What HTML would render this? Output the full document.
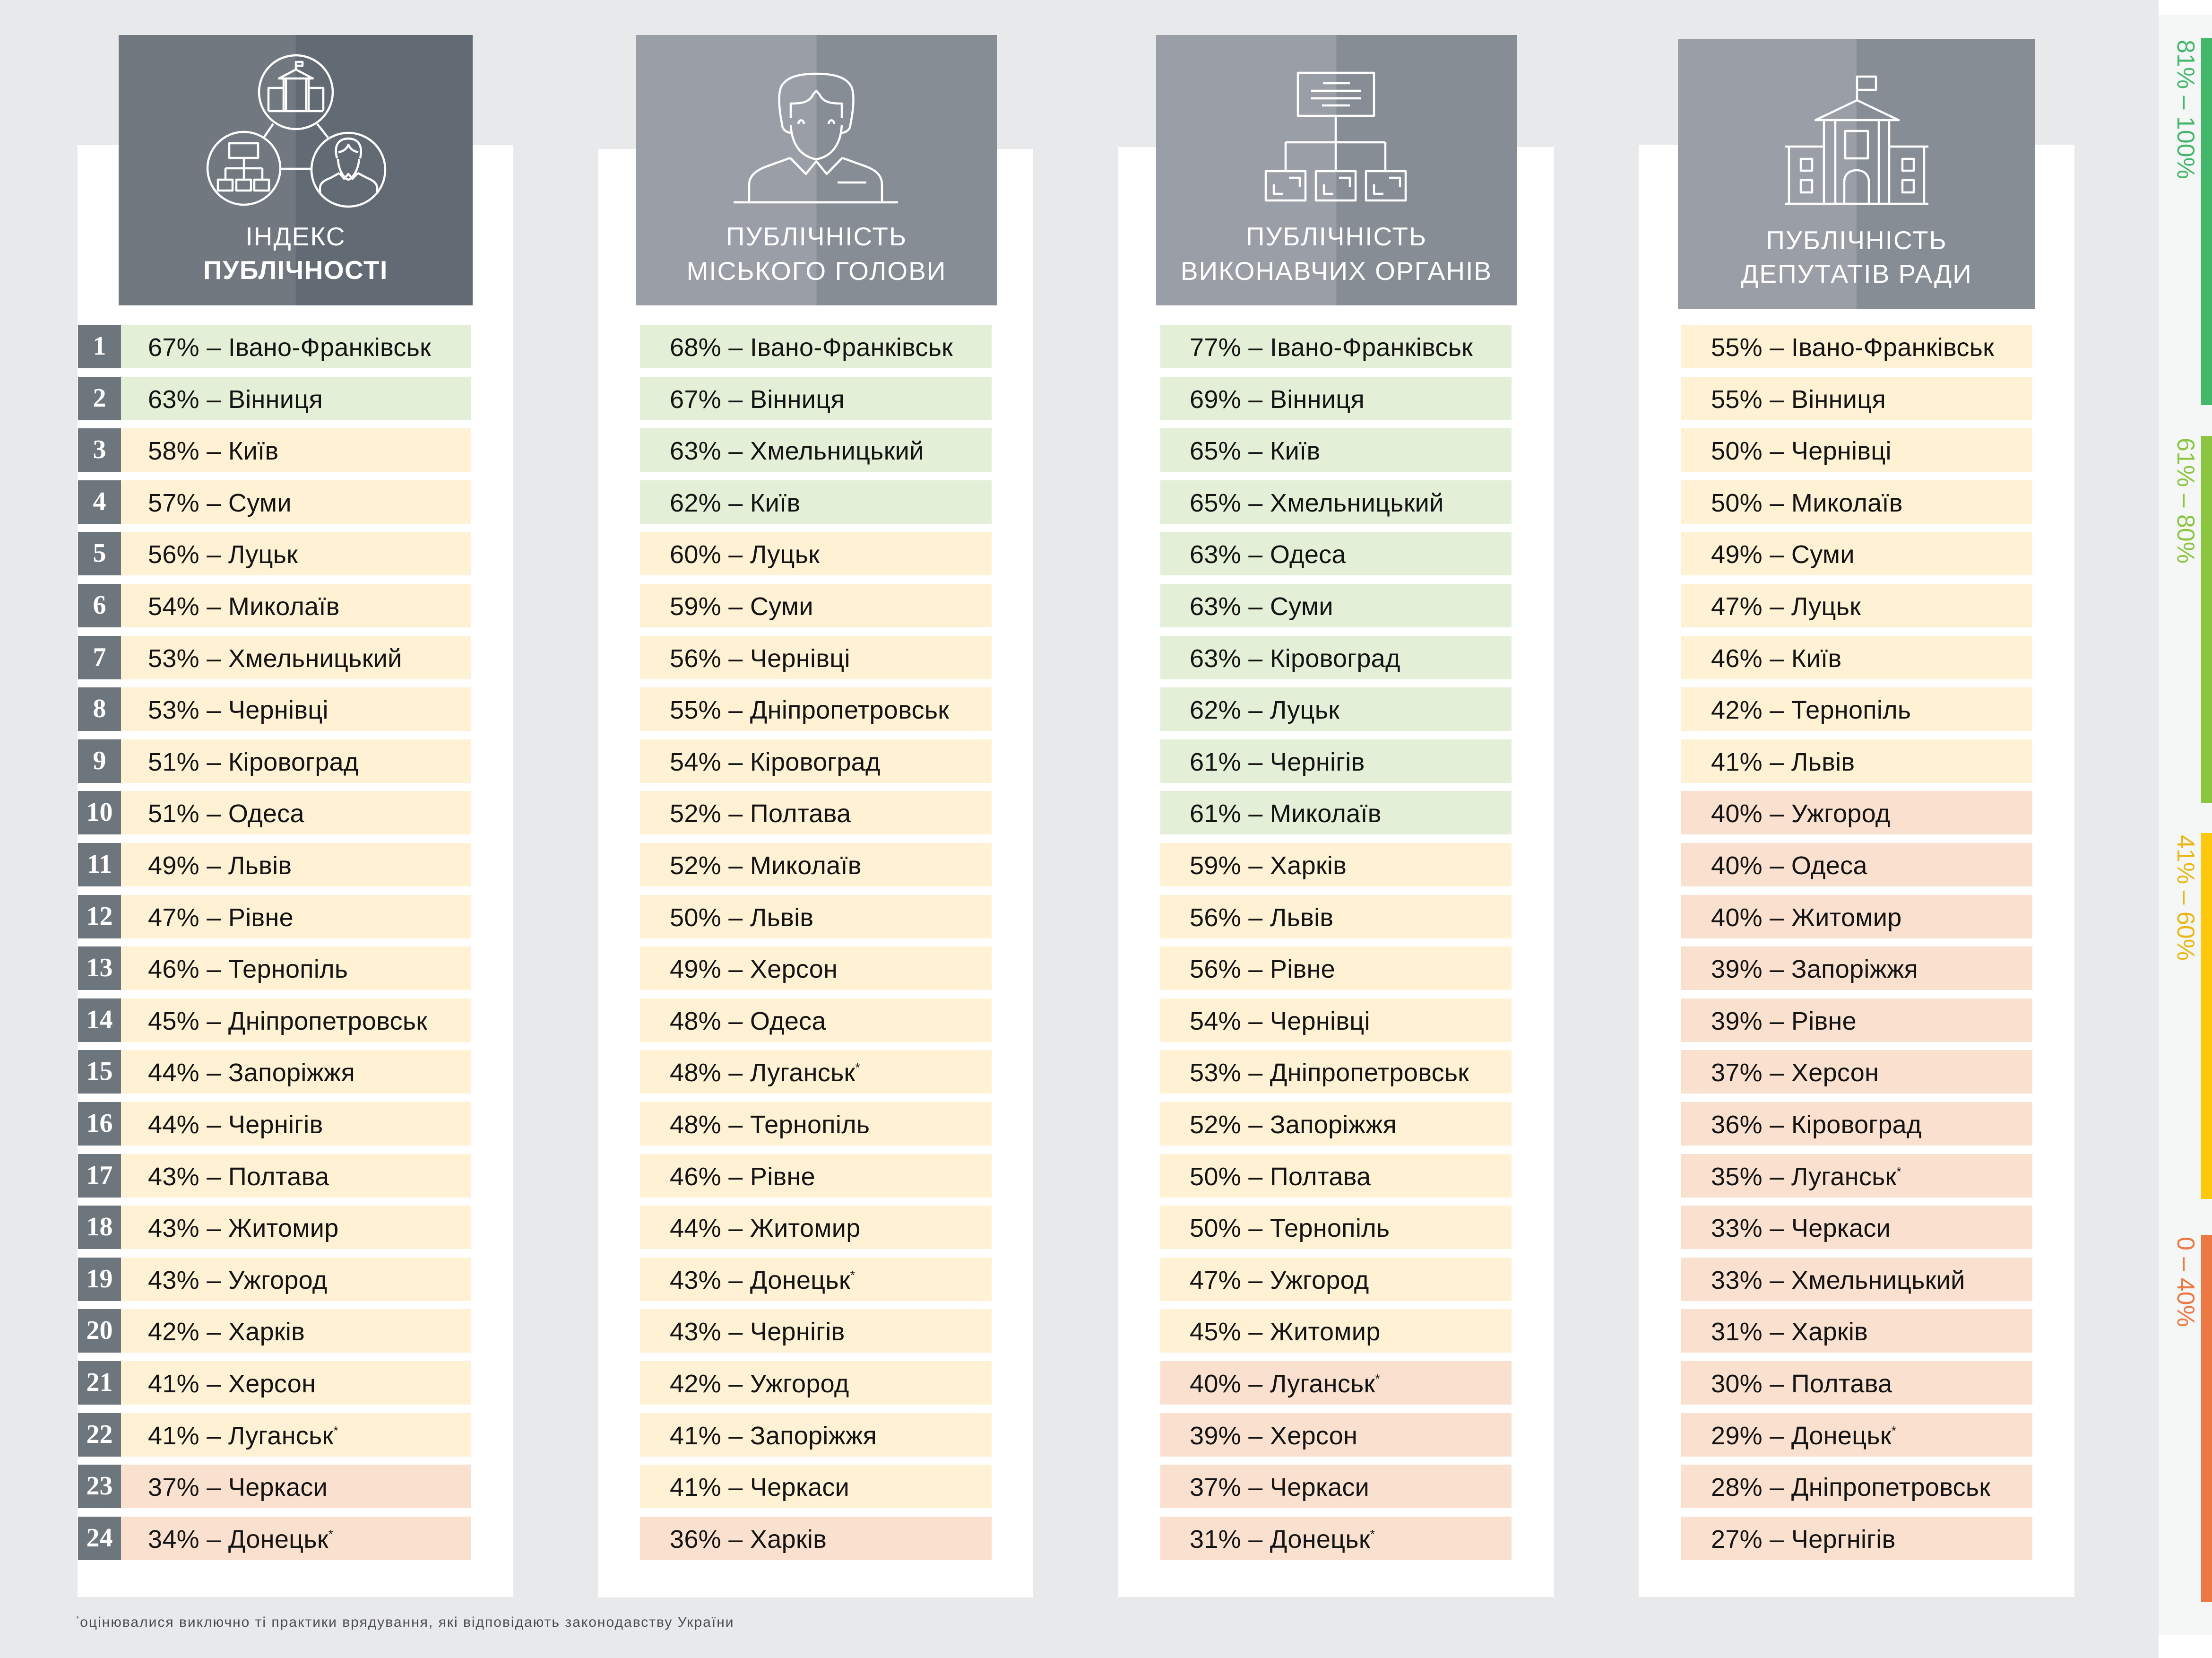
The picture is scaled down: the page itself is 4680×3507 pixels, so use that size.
<!DOCTYPE html>
<html lang="uk">
<head>
<meta charset="utf-8">
<style>
html,body{margin:0;padding:0}
body{width:4680px;height:3507px;position:relative;overflow:hidden;background:#e8e9eb;font-family:"Liberation Sans","Noto Sans CJK SC",sans-serif}
.pn{position:absolute;background:#fff}
.hd{position:absolute}
.ht{position:absolute;text-align:center;color:#fff;font-size:55px;line-height:54px;white-space:nowrap;letter-spacing:2px}
.col{position:absolute;top:0;height:0}
.r{position:absolute;left:0;right:0;height:92px;line-height:96px;font-size:54px;white-space:nowrap;color:#141414;box-sizing:border-box;letter-spacing:0.3px}
#c1 .r{padding-left:148px}
#c2 .r,#c4 .r{padding-left:63px}
#c3 .r{padding-left:62px}
.g{background:#e3efd6}
.y{background:#fef1d4}
.o{background:#f9e0cf}
.n{position:absolute;left:0;width:91px;height:92px;background:#6d757d;color:#fff;font-family:"Liberation Serif",serif;font-weight:bold;font-size:56px;line-height:90px;text-align:center}
.a{font-size:26px;vertical-align:20px;line-height:0}
.lg{position:absolute;transform-origin:0 0;transform:rotate(90deg);font-size:52px;line-height:52px;white-space:nowrap}
.lb{position:absolute;left:4657px;width:23px}
</style>
</head>
<body>

<!-- column panels -->
<div class="pn" style="left:164px;top:307px;width:922px;height:3071px"></div>
<div class="pn" style="left:1265px;top:315px;width:921px;height:3064px"></div>
<div class="pn" style="left:2366px;top:311px;width:922px;height:3067px"></div>
<div class="pn" style="left:3467px;top:306px;width:922px;height:3072px"></div>

<!-- headers -->
<div class="hd" style="left:251px;top:74px;width:749px;height:572px;background:linear-gradient(90deg,#717880 50%,#626b74 50%)"></div>
<div class="hd" style="left:1346px;top:74px;width:763px;height:572px;background:linear-gradient(90deg,#9a9ea6 50%,#878d95 50%)"></div>
<div class="hd" style="left:2446px;top:74px;width:763px;height:572px;background:linear-gradient(90deg,#9a9ea6 50%,#878d95 50%)"></div>
<div class="hd" style="left:3550px;top:82px;width:756px;height:572px;background:linear-gradient(90deg,#9a9ea6 50%,#878d95 50%)"></div>

<!-- legend strip -->
<div style="position:absolute;left:4567px;top:0;width:113px;height:3507px;background:#fff"></div>
<div style="position:absolute;left:4567px;top:31px;width:113px;height:3427px;background:#f5f6f6"></div>
<div class="lb" style="top:80px;height:777px;background:#43b86b"></div>
<div class="lb" style="top:922px;height:777px;background:#8cc540"></div>
<div class="lb" style="top:1762px;height:774px;background:#fec80c"></div>
<div class="lb" style="top:2612px;height:776px;background:#ec7843"></div>
<div class="lg" style="left:4650px;top:84px;color:#45b76b">81% – 100%</div>
<div class="lg" style="left:4650px;top:926px;color:#8bc541">61% – 80%</div>
<div class="lg" style="left:4650px;top:1766px;color:#e9b715">41% – 60%</div>
<div class="lg" style="left:4650px;top:2616px;color:#ec7843">0 – 40%</div>

<!-- icons -->
<svg style="position:absolute;left:0;top:0" width="4680" height="3507" viewBox="0 0 4680 3507" fill="none" stroke="#fff" stroke-width="4.5" stroke-linejoin="round">
  <!-- header 1 -->
  <circle cx="626" cy="195" r="78"/>
  <circle cx="516" cy="356" r="77"/>
  <circle cx="737" cy="359" r="78"/>
  <path d="M578,262 L558,291 M671,262 L694,291 M594,357 L657,357"/>
  <path d="M626,147 V131 H640 V139 H626"/>
  <path d="M590,166 L626,147 L662,166 Z"/>
  <path d="M600,167 V235 M605,167 V235 M648,167 V235 M653,167 V235"/>
  <path d="M600,186 H568 V235 M653,186 H684 V235 M568,235 H684"/>
  <rect x="485" y="303" width="61" height="31"/>
  <path d="M516,334 V356 M477,356 H555 M477,356 V380 M516,356 V380 M555,356 V380"/>
  <rect x="461" y="380" width="31" height="23"/>
  <rect x="500" y="380" width="31" height="23"/>
  <rect x="538" y="380" width="31" height="23"/>
  <path d="M713,335 C707,312 712,294 737,293 C762,294 767,312 762,335"/>
  <path d="M716,322 C726,320 733,316 737,306 C741,316 749,320 758,322"/>
  <path d="M715,336 C716,360 728,378 737,380 C746,378 758,360 760,336"/>
  <path d="M677,410 V398 C677,385 690,380 700,376 L718,366 M757,366 L776,376 C788,381 798,387 798,398 V410"/>
  <path d="M718,366 L728,378 L737,368 L746,378 L757,366"/>

  <!-- header 2 -->
  <path d="M1673,281 C1662,280 1655,272 1655,265 C1650,240 1645,205 1652,185 C1662,163 1690,156 1727,156 C1764,156 1792,163 1802,185 C1809,205 1804,240 1799,265 C1799,272 1792,280 1781,281"/>
  <path d="M1673,250 V219 C1692,219 1712,218 1720,200 L1727,192 L1734,200 C1742,218 1762,219 1781,219 V250"/>
  <path d="M1673,265 C1675,300 1690,330 1727,337 C1764,330 1779,300 1781,265"/>
  <path d="M1689,262 C1690,252 1700,252 1701,262 M1753,262 C1754,252 1764,252 1765,262"/>
  <path d="M1672,334 L1705,368 L1727,341 L1749,368 L1782,334"/>
  <path d="M1672,334 L1622,352 C1600,360 1585,372 1585,390 V428 M1782,334 L1832,352 C1854,360 1866,372 1866,390 V428"/>
  <path d="M1772,386 H1833 M1552,428 H1900"/>

  <!-- header 3 -->
  <rect x="2746" y="154" width="161" height="91"/>
  <path d="M2799,176 H2856 M2774,192 H2879 M2774,208 H2879 M2797,223 H2856"/>
  <path d="M2826,245 V301 M2720,301 H2931 M2720,301 V362 M2826,301 V362 M2931,301 V362"/>
  <rect x="2678" y="362" width="84" height="62"/>
  <rect x="2784" y="362" width="84" height="62"/>
  <rect x="2890" y="362" width="84" height="62"/>
  <path d="M2727,376 H2750 V395 M2695,390 V410 H2715"/>
  <path d="M2833,376 H2856 V395 M2801,390 V410 H2821"/>
  <path d="M2939,376 H2962 V395 M2907,390 V410 H2927"/>

  <!-- header 4 -->
  <path d="M3929,212 V162 H3969 V190 H3929"/>
  <path d="M3841,254 L3929,212 L4017,254 Z"/>
  <path d="M3859,254 V431 M3883,254 V431 M3975,254 V431 M3997,254 V431"/>
  <rect x="3904" y="277" width="48" height="58"/>
  <path d="M3902,431 V385 C3902,368 3914,360 3928,360 C3942,360 3954,368 3954,385 V431"/>
  <path d="M3859,310 H3776 M3785,310 V431 M3997,310 H4080 M4071,310 V431 M3776,431 H4080"/>
  <rect x="3810" y="336" width="24" height="25"/>
  <rect x="3810" y="381" width="24" height="26"/>
  <rect x="4025" y="336" width="24" height="25"/>
  <rect x="4025" y="381" width="24" height="26"/>
</svg>

<!-- header titles -->
<div class="ht" style="left:251px;top:473px;width:749px">ІНДЕКС</div>
<div class="ht" style="left:251px;top:544px;width:749px;font-weight:bold;letter-spacing:1.5px">ПУБЛІЧНОСТІ</div>
<div class="ht" style="left:1346px;top:473px;width:763px">ПУБЛІЧНІСТЬ</div>
<div class="ht" style="left:1346px;top:546px;width:763px">МІСЬКОГО ГОЛОВИ</div>
<div class="ht" style="left:2446px;top:473px;width:763px">ПУБЛІЧНІСТЬ</div>
<div class="ht" style="left:2446px;top:546px;width:763px">ВИКОНАВЧИХ ОРГАНІВ</div>
<div class="ht" style="left:3550px;top:481px;width:756px">ПУБЛІЧНІСТЬ</div>
<div class="ht" style="left:3550px;top:552px;width:756px">ДЕПУТАТІВ РАДИ</div>

<!-- column 1 -->
<div class="col" id="c1" style="left:165px;width:832px">
<div class="r g" style="top:687px">67% – Івано-Франківськ</div><div class="n" style="top:687px">1</div>
<div class="r g" style="top:797px">63% – Вінниця</div><div class="n" style="top:797px">2</div>
<div class="r y" style="top:906px">58% – Київ</div><div class="n" style="top:906px">3</div>
<div class="r y" style="top:1016px">57% – Суми</div><div class="n" style="top:1016px">4</div>
<div class="r y" style="top:1125px">56% – Луцьк</div><div class="n" style="top:1125px">5</div>
<div class="r y" style="top:1235px">54% – Миколаїв</div><div class="n" style="top:1235px">6</div>
<div class="r y" style="top:1345px">53% – Хмельницький</div><div class="n" style="top:1345px">7</div>
<div class="r y" style="top:1454px">53% – Чернівці</div><div class="n" style="top:1454px">8</div>
<div class="r y" style="top:1564px">51% – Кіровоград</div><div class="n" style="top:1564px">9</div>
<div class="r y" style="top:1673px">51% – Одеса</div><div class="n" style="top:1673px">10</div>
<div class="r y" style="top:1783px">49% – Львів</div><div class="n" style="top:1783px">11</div>
<div class="r y" style="top:1893px">47% – Рівне</div><div class="n" style="top:1893px">12</div>
<div class="r y" style="top:2002px">46% – Тернопіль</div><div class="n" style="top:2002px">13</div>
<div class="r y" style="top:2112px">45% – Дніпропетровськ</div><div class="n" style="top:2112px">14</div>
<div class="r y" style="top:2221px">44% – Запоріжжя</div><div class="n" style="top:2221px">15</div>
<div class="r y" style="top:2331px">44% – Чернігів</div><div class="n" style="top:2331px">16</div>
<div class="r y" style="top:2441px">43% – Полтава</div><div class="n" style="top:2441px">17</div>
<div class="r y" style="top:2550px">43% – Житомир</div><div class="n" style="top:2550px">18</div>
<div class="r y" style="top:2660px">43% – Ужгород</div><div class="n" style="top:2660px">19</div>
<div class="r y" style="top:2769px">42% – Харків</div><div class="n" style="top:2769px">20</div>
<div class="r y" style="top:2879px">41% – Херсон</div><div class="n" style="top:2879px">21</div>
<div class="r y" style="top:2989px">41% – Луганськ<span class="a">*</span></div><div class="n" style="top:2989px">22</div>
<div class="r o" style="top:3098px">37% – Черкаси</div><div class="n" style="top:3098px">23</div>
<div class="r o" style="top:3208px">34% – Донецьк<span class="a">*</span></div><div class="n" style="top:3208px">24</div>
</div>

<!-- column 2 -->
<div class="col" id="c2" style="left:1354px;width:744px">
<div class="r g" style="top:687px">68% – Івано-Франківськ</div>
<div class="r g" style="top:797px">67% – Вінниця</div>
<div class="r g" style="top:906px">63% – Хмельницький</div>
<div class="r g" style="top:1016px">62% – Київ</div>
<div class="r y" style="top:1125px">60% – Луцьк</div>
<div class="r y" style="top:1235px">59% – Суми</div>
<div class="r y" style="top:1345px">56% – Чернівці</div>
<div class="r y" style="top:1454px">55% – Дніпропетровськ</div>
<div class="r y" style="top:1564px">54% – Кіровоград</div>
<div class="r y" style="top:1673px">52% – Полтава</div>
<div class="r y" style="top:1783px">52% – Миколаїв</div>
<div class="r y" style="top:1893px">50% – Львів</div>
<div class="r y" style="top:2002px">49% – Херсон</div>
<div class="r y" style="top:2112px">48% – Одеса</div>
<div class="r y" style="top:2221px">48% – Луганськ<span class="a">*</span></div>
<div class="r y" style="top:2331px">48% – Тернопіль</div>
<div class="r y" style="top:2441px">46% – Рівне</div>
<div class="r y" style="top:2550px">44% – Житомир</div>
<div class="r y" style="top:2660px">43% – Донецьк<span class="a">*</span></div>
<div class="r y" style="top:2769px">43% – Чернігів</div>
<div class="r y" style="top:2879px">42% – Ужгород</div>
<div class="r y" style="top:2989px">41% – Запоріжжя</div>
<div class="r y" style="top:3098px">41% – Черкаси</div>
<div class="r o" style="top:3208px">36% – Харків</div>
</div>

<!-- column 3 -->
<div class="col" id="c3" style="left:2455px;width:743px">
<div class="r g" style="top:687px">77% – Івано-Франківськ</div>
<div class="r g" style="top:797px">69% – Вінниця</div>
<div class="r g" style="top:906px">65% – Київ</div>
<div class="r g" style="top:1016px">65% – Хмельницький</div>
<div class="r g" style="top:1125px">63% – Одеса</div>
<div class="r g" style="top:1235px">63% – Суми</div>
<div class="r g" style="top:1345px">63% – Кіровоград</div>
<div class="r g" style="top:1454px">62% – Луцьк</div>
<div class="r g" style="top:1564px">61% – Чернігів</div>
<div class="r g" style="top:1673px">61% – Миколаїв</div>
<div class="r y" style="top:1783px">59% – Харків</div>
<div class="r y" style="top:1893px">56% – Львів</div>
<div class="r y" style="top:2002px">56% – Рівне</div>
<div class="r y" style="top:2112px">54% – Чернівці</div>
<div class="r y" style="top:2221px">53% – Дніпропетровськ</div>
<div class="r y" style="top:2331px">52% – Запоріжжя</div>
<div class="r y" style="top:2441px">50% – Полтава</div>
<div class="r y" style="top:2550px">50% – Тернопіль</div>
<div class="r y" style="top:2660px">47% – Ужгород</div>
<div class="r y" style="top:2769px">45% – Житомир</div>
<div class="r o" style="top:2879px">40% – Луганськ<span class="a">*</span></div>
<div class="r o" style="top:2989px">39% – Херсон</div>
<div class="r o" style="top:3098px">37% – Черкаси</div>
<div class="r o" style="top:3208px">31% – Донецьк<span class="a">*</span></div>
</div>

<!-- column 4 -->
<div class="col" id="c4" style="left:3557px;width:743px">
<div class="r y" style="top:687px">55% – Івано-Франківськ</div>
<div class="r y" style="top:797px">55% – Вінниця</div>
<div class="r y" style="top:906px">50% – Чернівці</div>
<div class="r y" style="top:1016px">50% – Миколаїв</div>
<div class="r y" style="top:1125px">49% – Суми</div>
<div class="r y" style="top:1235px">47% – Луцьк</div>
<div class="r y" style="top:1345px">46% – Київ</div>
<div class="r y" style="top:1454px">42% – Тернопіль</div>
<div class="r y" style="top:1564px">41% – Львів</div>
<div class="r o" style="top:1673px">40% – Ужгород</div>
<div class="r o" style="top:1783px">40% – Одеса</div>
<div class="r o" style="top:1893px">40% – Житомир</div>
<div class="r o" style="top:2002px">39% – Запоріжжя</div>
<div class="r o" style="top:2112px">39% – Рівне</div>
<div class="r o" style="top:2221px">37% – Херсон</div>
<div class="r o" style="top:2331px">36% – Кіровоград</div>
<div class="r o" style="top:2441px">35% – Луганськ<span class="a">*</span></div>
<div class="r o" style="top:2550px">33% – Черкаси</div>
<div class="r o" style="top:2660px">33% – Хмельницький</div>
<div class="r o" style="top:2769px">31% – Харків</div>
<div class="r o" style="top:2879px">30% – Полтава</div>
<div class="r o" style="top:2989px">29% – Донецьк<span class="a">*</span></div>
<div class="r o" style="top:3098px">28% – Дніпропетровськ</div>
<div class="r o" style="top:3208px">27% – Чергнігів</div>
</div>

<!-- footnote -->
<div style="position:absolute;left:161px;top:3417px;font-size:30px;line-height:30px;letter-spacing:2px;color:#4d4d4f;white-space:nowrap"><span style="font-size:16px;vertical-align:12px;line-height:0">*</span>оцінювалися виключно ті практики врядування, які відповідають законодавству України</div>

</body>
</html>
